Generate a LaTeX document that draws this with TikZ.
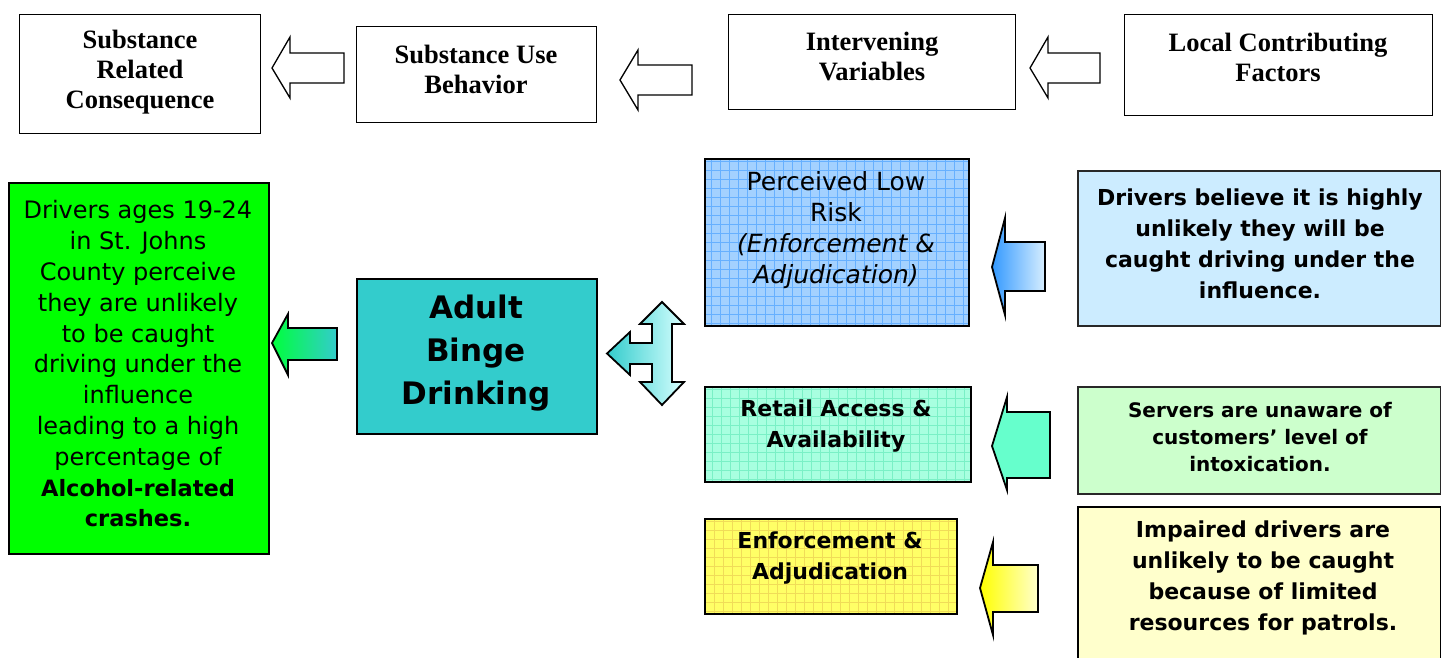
\documentclass[tikz,border=0pt]{standalone}
\usepackage{fontspec}
\newfontfamily\tah{DejaVu Sans}
\newfontfamily\tnr{Liberation Serif}
\usetikzlibrary{shadings}
\definecolor{cgreen}{HTML}{00FF00}
\definecolor{cteal}{HTML}{33CCCC}
\definecolor{cblue}{HTML}{A3D1FF}
\definecolor{cbluegrid}{HTML}{66B0FF}
\definecolor{caqua}{HTML}{A8FFE0}
\definecolor{caquagrid}{HTML}{7AF0C6}
\definecolor{cyel}{HTML}{FFFF66}
\definecolor{cyelgrid}{HTML}{F0DC58}
\definecolor{lblue}{HTML}{CCECFF}
\definecolor{lgreen}{HTML}{CCFFCC}
\definecolor{lyel}{HTML}{FFFFCC}
\newcommand\blockarr[9]{\draw[#9] (#1,#2) -- (#3,#4) -- (#3,#6) -- (#8,#6) -- (#8,#7) -- (#3,#7) -- (#3,#5) -- cycle;}
\begin{document}
\begin{tikzpicture}[x=1pt,y=-1pt,
  box/.style={draw=black, rectangle, inner sep=0pt, anchor=north west},
  topbox/.style={box, line width=1.3pt},
  colbox/.style={box, line width=2pt},
  gridded/.style={path picture={\draw[#1, line width=0.6pt, step=9pt] (path picture bounding box.south west) grid (path picture bounding box.north east);}},
  serif/.style={font=\tnr\bfseries\fontsize{26.5}{30}\selectfont, align=center},
  body/.style={font=\tah\fontsize{24}{30.8}\selectfont, align=center},
  bodyb/.style={font=\tah\bfseries\fontsize{22}{31}\selectfont, align=center},
  hollow/.style={draw=black, fill=white, line width=1.3pt, line join=miter},
  solidarr/.style={draw=black, line width=1.8pt, line join=miter}
]
\clip (0,0) rectangle (1441,658);
\fill[white] (0,0) rectangle (1441,658);
% top row
\node[topbox, minimum width=241pt, minimum height=119pt] (src) at (19,14) {};
\node[topbox, minimum width=240pt, minimum height=96pt] (sub) at (356,26) {};
\node[topbox, minimum width=287pt, minimum height=95pt] (int) at (728,14) {};
\node[topbox, minimum width=308pt, minimum height=101pt] (loc) at (1124,14) {};
\node[serif] (srct) at (140,72) {Substance\\Related\\Consequence};
\node[serif] (subt) at (476,69) {Substance Use\\Behavior};
\node[serif] (intt) at (872,57) {Intervening\\Variables};
\node[serif] (loct) at (1278,57) {Local Contributing\\Factors};
\blockarr{272}{68}{290}{37}{98}{53}{83}{344}{hollow}
\blockarr{620}{80}{638}{50}{110}{65}{95}{692}{hollow}
\blockarr{1030}{68}{1048}{37}{98}{53}{83}{1100}{hollow}
% left
\node[colbox, fill=cgreen, minimum width=260pt, minimum height=371pt] (cons) at (8,182) {};
\node[body] (const) at (138,364) {Drivers ages 19-24\\in St. Johns\\County perceive\\they are unlikely\\to be caught\\driving under the\\influence\\leading to a high\\percentage of\\{\bfseries\fontsize{22.5}{30.8}\selectfont Alcohol-related}\\{\bfseries\fontsize{22.5}{30.8}\selectfont crashes.}};
\blockarr{272}{343}{288}{314}{375}{328}{360}{337}{solidarr, left color={rgb,255:red,0;green,255;blue,60}, right color=cteal}
\node[colbox, fill=cteal, minimum width=240pt, minimum height=155pt] (abd) at (356,278) {};
\node[font=\tah\bfseries\fontsize{31}{43}\selectfont, align=center] (abdt) at (476,353) {Adult\\Binge\\Drinking};
% triple arrow
\draw[solidarr, left color=cteal, right color={rgb,255:red,215;green,255;blue,255}]
  (662,302) -- (684,324) -- (672,324) -- (672,382) -- (684,382) -- (662,405) -- (640,382) -- (652,382)
  -- (652,364) -- (630,364) -- (630,375) -- (607,353.5) -- (630,332) -- (630,343) -- (652,343)
  -- (652,324) -- (640,324) -- cycle;
% intervening variable boxes
\node[colbox, fill=cblue, gridded=cbluegrid, minimum width=264pt, minimum height=167pt] (plr) at (704,158) {};
\node[font=\tah\fontsize{25}{31}\selectfont, align=center] (plrt) at (836,230) {Perceived Low\\Risk\\\textit{(Enforcement \&}\\\textit{Adjudication)}};
\node[colbox, fill=caqua, gridded=caquagrid, minimum width=266pt, minimum height=95pt] (raa) at (704,386) {};
\node[bodyb] (raat) at (836,426.5) {Retail Access \&\\Availability};
\node[colbox, fill=cyel, gridded=cyelgrid, minimum width=252pt, minimum height=95pt] (ena) at (704,518) {};
\node[bodyb] (enat) at (830,558.5) {Enforcement \&\\Adjudication};
% arrows right
\blockarr{992}{267}{1005}{218}{315}{242}{291}{1045}{solidarr, left color={rgb,255:red,51;green,153;blue,255}, right color={rgb,255:red,215;green,238;blue,255}}
\blockarr{992}{446}{1007}{397}{490}{412}{478}{1050}{solidarr, fill={rgb,255:red,102;green,255;blue,204}}
\blockarr{980}{588}{993}{542}{635}{565}{612}{1038}{solidarr, left color={rgb,255:red,255;green,255;blue,0}, right color=lyel}
% local factor boxes
\node[colbox, draw={rgb,255:red,40;green,40;blue,40}, fill=lblue, minimum width=363pt, minimum height=155pt] (lf1) at (1077,170) {};
\node[bodyb] (lf1t) at (1260,243.5) {Drivers believe it is highly\\unlikely they will be\\caught driving under the\\influence.};
\node[colbox, draw={rgb,255:red,40;green,40;blue,40}, fill=lgreen, minimum width=363pt, minimum height=107pt] (lf2) at (1077,386) {};
\node[font=\tah\bfseries\fontsize{20}{27}\selectfont, align=center] (lf2t) at (1260,437) {Servers are unaware of\\customers’ level of\\intoxication.};
\node[colbox, fill=lyel, minimum width=363pt, minimum height=160pt] (lf3) at (1077,506) {};
\node[bodyb] (lf3t) at (1263,578) {Impaired drivers are\\unlikely to be caught\\because of limited\\resources for patrols.};
\end{tikzpicture}
\end{document}
